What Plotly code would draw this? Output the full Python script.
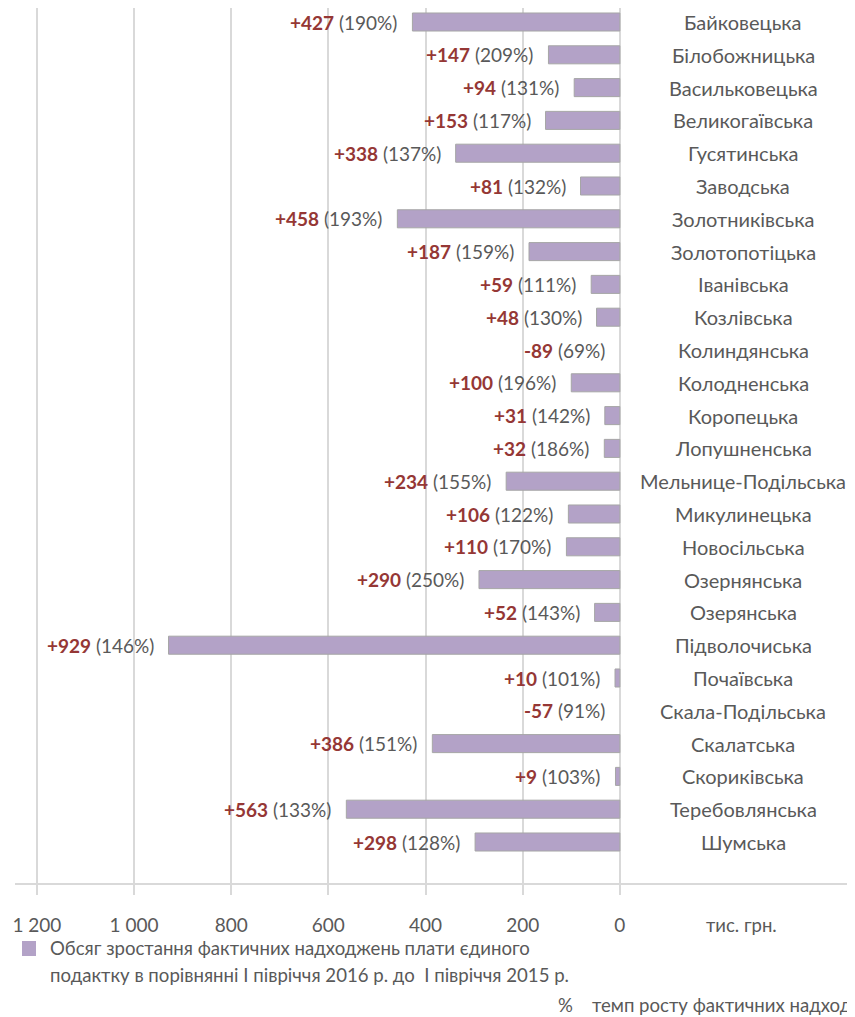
import plotly.graph_objects as go

categories = ["Байковецька", "Білобожницька", "Васильковецька", "Великогаївська", "Гусятинська",
              "Заводська", "Золотниківська", "Золотопотіцька", "Іванівська", "Козлівська",
              "Колиндянська", "Колодненська", "Коропецька", "Лопушненська", "Мельнице-Подільська",
              "Микулинецька", "Новосільська", "Озернянська", "Озерянська", "Підволочиська",
              "Почаївська", "Скала-Подільська", "Скалатська", "Скориківська", "Теребовлянська", "Шумська"]
growth = [427, 147, 94, 153, 338, 81, 458, 187, 59, 48, -89, 100, 31, 32, 234,
          106, 110, 290, 52, 929, 10, -57, 386, 9, 563, 298]
pct = [190, 209, 131, 117, 137, 132, 193, 159, 111, 130, 69, 196, 142, 186, 155,
       122, 170, 250, 143, 146, 101, 91, 151, 103, 133, 128]
tick_vals = [0, 200, 400, 600, 800, 1000, 1200]
tick_text = ["0", "200", "400", "600", "800", "1 000", "1 200"]

FONT = "Lato"
GREY = "#595959"
RED = "#953735"
BAR = "#b3a2c7"

idx = list(range(len(categories)))
bar_len = [max(v, 0) for v in growth]
line_w = [1 if v > 0 else 0 for v in growth]

fig = go.Figure()
fig.add_trace(go.Bar(
    x=bar_len, y=idx, orientation="h", width=0.55,
    marker=dict(color=BAR, line=dict(color="#a6a6a6", width=line_w)),
    hoverinfo="skip", showlegend=False,
))

# page offset: the browser page adds an 8px body margin
PLOT_H = 875.0
def py(p):
    return (883 - p) / PLOT_H
def px(p):
    return (p - 15) / 840.0

annotations = []
for i, (v, p, c) in enumerate(zip(growth, pct, categories)):
    sign = "+" if v >= 0 else "-"
    annotations.append(dict(
        x=max(v, 0), y=i, xref="x", yref="y", xanchor="right", yanchor="middle",
        xshift=-13, showarrow=False,
        text=f"<span style='color:{RED}'><b>{sign}{abs(v)}</b></span> ({p}%)",
        font=dict(family=FONT, size=19, color=GREY),
    ))
    annotations.append(dict(
        x=px(743), y=i, xref="paper", yref="y", xanchor="center", yanchor="middle",
        showarrow=False, text=c, font=dict(family=FONT, size=20, color=GREY),
    ))

annotations += [
    dict(x=px(741), y=py(925), xref="paper", yref="paper", xanchor="center", yanchor="middle",
         showarrow=False, text="тис. грн.", font=dict(family=FONT, size=18.5, color=GREY)),
    dict(x=px(48), y=py(948), xref="paper", yref="paper", xanchor="left", yanchor="middle",
         showarrow=False, text="Обсяг зростання фактичних надходжень плати єдиного",
         font=dict(family=FONT, size=18.6, color=GREY)),
    dict(x=px(48), y=py(975), xref="paper", yref="paper", xanchor="left", yanchor="middle",
         showarrow=False, text="подактку в порівнянні І півріччя 2016 р. до\u00a0 І півріччя 2015 р.",
         font=dict(family=FONT, size=18.6, color=GREY)),
    dict(x=px(556), y=py(1005), xref="paper", yref="paper", xanchor="left", yanchor="middle",
         showarrow=False, text="%\u00a0\u00a0\u00a0\u00a0темп росту фактичних надходжень плати єдиного податку",
         font=dict(family=FONT, size=18.6, color=GREY)),
]

shapes = [dict(type="rect", xref="paper", yref="paper",
               x0=px(22), x1=px(36), y0=py(956), y1=py(941),
               fillcolor=BAR, line=dict(width=0))]

fig.update_layout(
    width=847, height=1009,
    margin=dict(l=7, r=0, t=0, b=134),
    paper_bgcolor="white", plot_bgcolor="white",
    xaxis=dict(range=[1245, -484], tickvals=tick_vals, ticktext=tick_text,
               showgrid=True, gridcolor="#d9d9d9", gridwidth=1.5, zeroline=False,
               showline=True, linecolor="#d9d9d9", linewidth=1.5,
               ticks="outside", ticklen=10, tickcolor="#d9d9d9", tickwidth=1.5,
               ticklabelstandoff=14,
               tickfont=dict(family=FONT, size=19, color=GREY), fixedrange=True),
    yaxis=dict(range=[26.25, -0.427], showticklabels=False, showgrid=False,
               zeroline=False, showline=False, ticks=""),
    annotations=annotations, shapes=shapes,
    font=dict(family=FONT, color=GREY),
)

fig.write_html("out.html")
